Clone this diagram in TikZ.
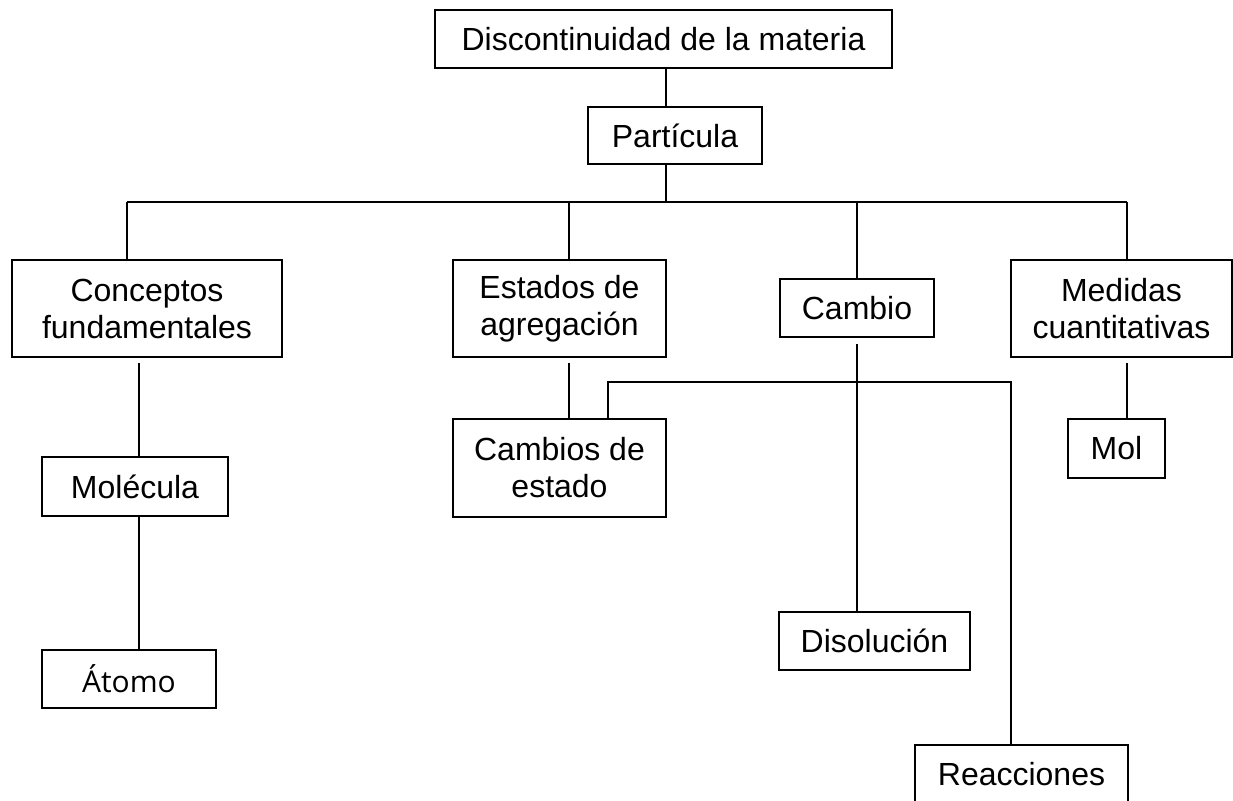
\documentclass[tikz,border=0pt]{standalone}
\usepackage{fontspec}
\setmainfont{Liberation Sans}
\newfontfamily\atomfont{Open Sans}
\usetikzlibrary{calc}
\tikzset{%
	block/.style    = {draw, rectangle, line width=2pt, inner sep=0pt, align=center, font=\fontsize{32}{37}\selectfont},
	waypoint/.style = {coordinate}, % junction
	link/.style     = {line width=2pt},
	gap/.style      = {link, shorten <=5pt},
}

\begin{document}
\begin{tikzpicture}[x=1pt,y=-1pt]
	\useasboundingbox (0,0) rectangle (1233,800);
	% top of the tree
	\node [block,minimum width=457pt,minimum height=58pt] (disc) at (663.5,39) {Discontinuidad de la materia};
	\node [block,minimum width=174pt,minimum height=57pt] (part) at (675,135.5) {Partícula};
	% second level
	\node [block,minimum width=270pt,minimum height=97pt] (conc) at (147,308.5) {Conceptos\\fundamentales};
	\node [block,minimum width=213pt,minimum height=97pt] (esta) at (559.5,308.5) {Estados de\\agregación};
	\node [block,minimum width=154pt,minimum height=58pt] (camb) at (857,308) {Cambio};
	\node [block,minimum width=221pt,minimum height=97pt] (medi) at (1121.5,308.5) {Medidas\\cuantitativas};
	% lower boxes
	\node [block,minimum width=186pt,minimum height=59pt] (mole) at (135,486.5) {Molécula};
	\node [block,minimum width=174pt,minimum height=58pt,font=\atomfont\fontsize{30}{34}\selectfont] (atom) at (129,679) {Átomo};
	\node [block,minimum width=213pt,minimum height=98pt] (cest) at (559.5,468) {Cambios de\\estado};
	\node [block,minimum width=191pt,minimum height=58pt] (diso) at (874.5,641) {Disolución};
	\node [block,minimum width=213pt,minimum height=58pt] (reac) at (1021.5,774) {Reacciones};
	\node [block,minimum width=97pt,minimum height=59pt] (mol) at (1116.5,448.5) {Mol};

	\node [waypoint] (j0) at (666,202) {};
	\node [waypoint] (jc) at (127,202) {};
	\node [waypoint] (je) at (569,202) {};
	\node [waypoint] (jm) at (1127,202) {};
	\node [waypoint] (jr) at (1011,382) {};

	\draw[link] ([xshift=2.5pt]disc.south) -- ([xshift=-9pt]part.north);
	\draw[link] ([xshift=-9pt]part.south) -- (j0);
	\draw[link] (jc) -- (jm);
	\draw[link] (jc) -- (jc |- conc.north);
	\draw[link] (je) -- (je |- esta.north);
	\draw[link] (camb.north) -- (camb.north |- j0);
	\draw[link] (jm) -- (jm |- medi.north);
	\draw[gap] ([xshift=-8pt]conc.south) -- ([xshift=4pt]mole.north);
	\draw[link] ([xshift=4pt]mole.south) -- ([xshift=10pt]atom.north);
	\draw[gap] ([xshift=9.5pt]esta.south) -- ([xshift=9.5pt]cest.north);
	\draw[link] ([xshift=48.5pt]cest.north) |- (jr) -- (jr |- reac.north);
	\draw[link,shorten <=6pt] (camb.south) -- ([xshift=-17.5pt]diso.north);
	\draw[gap] ([xshift=5.5pt]medi.south) -- ([xshift=10.5pt]mol.north);
\end{tikzpicture}
\end{document}
